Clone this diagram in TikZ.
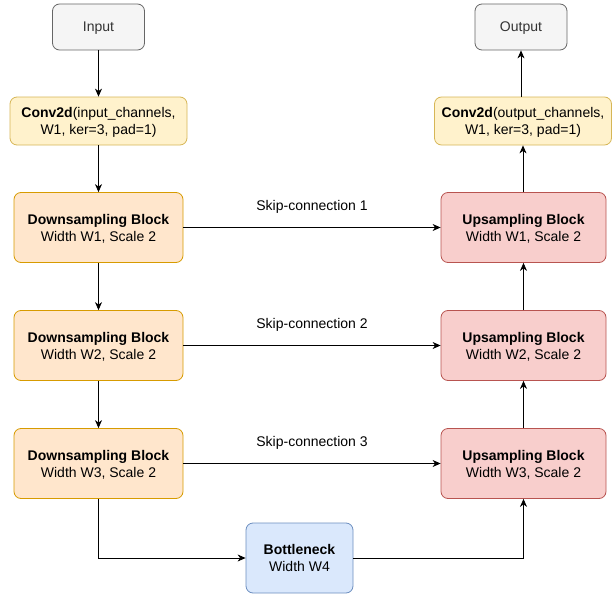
\documentclass[tikz,border=0pt]{standalone}
\usepackage{fontspec}
\setmainfont{Liberation Sans}
\usetikzlibrary{arrows.meta}
\definecolor{ioFill}{HTML}{F5F5F5}
\definecolor{ioLine}{HTML}{666666}
\definecolor{ioText}{HTML}{333333}
\definecolor{convFill}{HTML}{FFF2CC}
\definecolor{convLine}{HTML}{D6B656}
\definecolor{downFill}{HTML}{FFE6CC}
\definecolor{downLine}{HTML}{D79B00}
\definecolor{upFill}{HTML}{F8CECC}
\definecolor{upLine}{HTML}{B85450}
\definecolor{botFill}{HTML}{DAE8FC}
\definecolor{botLine}{HTML}{6C8EBF}
\tikzset{
	box/.style={draw, rounded corners=7pt, line width=0.8pt, align=center,
		inner sep=0pt, text depth=-3pt, font=\fontsize{14}{17}\selectfont},
	iobox/.style={box, fill=ioFill, draw=ioLine, text=ioText,
		minimum width=92pt, minimum height=46pt},
	convbox/.style={box, fill=convFill, draw=convLine,
		minimum width=177pt, minimum height=48pt},
	downbox/.style={box, fill=downFill, draw=downLine,
		minimum width=169pt, minimum height=70pt},
	upbox/.style={box, fill=upFill, draw=upLine,
		minimum width=165pt, minimum height=70pt},
	botbox/.style={box, fill=botFill, draw=botLine,
		minimum width=107pt, minimum height=70pt},
	link/.style={line width=0.8pt, -{Stealth[length=8pt,width=7pt,inset=2.5pt]}},
	skiplabel/.style={font=\fontsize{14}{17}\selectfont}
}
\begin{document}
\begin{tikzpicture}[x=1pt, y=-1pt]
	\useasboundingbox (0, 0) rectangle (616, 594);
	%%%%% LEFT COLUMN %%%%%
	\node[iobox] (input) at (98.5, 27) {Input};
	\node[convbox] (convin) at (98.5, 121) {\textbf{Conv2d}(input\_channels,\\W1, ker=3, pad=1)};
	\node[downbox] (down1) at (98.5, 227.5) {\textbf{Downsampling Block}\\Width W1, Scale 2};
	\node[downbox] (down2) at (98.5, 345.5) {\textbf{Downsampling Block}\\Width W2, Scale 2};
	\node[downbox] (down3) at (98.5, 463.5) {\textbf{Downsampling Block}\\Width W3, Scale 2};
	
	%%%%% RIGHT COLUMN %%%%%
	\node[iobox] (output) at (521, 27) {Output};
	\node[convbox] (convout) at (523, 121) {\textbf{Conv2d}(output\_channels,\\W1, ker=3, pad=1)};
	\node[upbox] (up1) at (523.5, 227.5) {\textbf{Upsampling Block}\\Width W1, Scale 2};
	\node[upbox] (up2) at (523.5, 345.5) {\textbf{Upsampling Block}\\Width W2, Scale 2};
	\node[upbox] (up3) at (523.5, 463.5) {\textbf{Upsampling Block}\\Width W3, Scale 2};
	
	%%%%% BOTTOM %%%%%
	\node[botbox] (bottleneck) at (299.5, 558) {\textbf{Bottleneck}\\Width W4};
	
	%%%%% CONNECTIONS %%%%%
	\draw[link] (input) -- (convin);
	\draw[link] (convin) -- (down1);
	\draw[link] (down1) -- (down2);
	\draw[link] (down2) -- (down3);
	\draw[link] (down3.south) |- (bottleneck.west);
	\draw[link] (bottleneck.east) -| (up3.south);
	\draw[link] (up3) -- (up2);
	\draw[link] (up2) -- (up1);
	\draw[link] (up1.north -| convout.south) -- (convout.south);
	\draw[link] (convout.north -| output.south) -- (output.south);
	
	\draw[link] (down1) -- node[skiplabel, above=10pt] (skip1) {Skip-connection 1} (up1);
	\draw[link] (down2) -- node[skiplabel, above=10pt] (skip2) {Skip-connection 2} (up2);
	\draw[link] (down3) -- node[skiplabel, above=10pt] (skip3) {Skip-connection 3} (up3);
\end{tikzpicture}
\end{document}
